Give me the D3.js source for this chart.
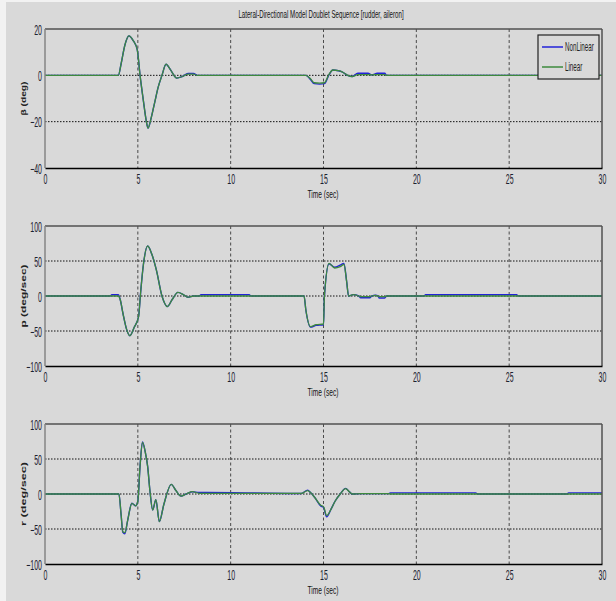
<!DOCTYPE html>
<html><head><meta charset="utf-8">
<script src="https://cdn.jsdelivr.net/npm/d3@7"></script>
<style>body{margin:0;background:#fff}svg{display:block}</style>
</head><body>
<script>
// ---------- DATA ----------
const titleText = "Lateral-Directional Model Doublet Sequence [rudder, aileron]";
const xTicks = [0, 5, 10, 15, 20, 25, 30];
const seriesNames = ["NonLinear", "Linear"];

// beta (deg)
const betaTicks = [20, 0, -20, -40];
const betaTime = [0, 3.95, 4.1, 4.3, 4.52, 4.75, 4.97, 5.12, 5.3, 5.45, 5.55, 5.7, 5.9, 6.1, 6.3, 6.52, 6.75, 7.1, 7.4, 7.7, 8.0, 8.2, 14.05, 14.3, 14.5, 14.8, 15.05, 15.3, 15.5, 15.8, 16.0, 16.3, 16.55, 16.85, 17.4, 17.6, 17.9, 18.3, 18.4, 30];
const betaLinear = [0, 0, 5, 13, 17, 15, 11, 0, -11, -19.5, -22.8, -19, -12, -5, 0, 4.8, 2.5, -1.2, -0.5, 0.5, 0.5, 0, 0, -1.5, -3.2, -3.4, -3.2, 0.5, 2.3, 2, 1.5, 0, -0.5, 0.3, 0.3, 0.2, 0.3, 0.3, 0, 0];
const betaNonLinear = [0, 0, 5, 13, 17, 15, 11, 0, -11, -19.5, -22.8, -19, -12, -5, 0, 4.8, 2.5, -1.2, -0.5, 0.8, 0.8, 0, 0, -1.8, -3.6, -3.8, -3.6, 0.3, 2.3, 2, 1.5, 0, -0.5, 0.9, 0.9, 0.2, 0.9, 0.9, 0, 0];

// p (deg/sec)
const pTicks = [100, 50, 0, -50, -100];
const pTime = [0, 3.5, 3.6, 3.95, 4.05, 4.2, 4.4, 4.57, 4.8, 5.04, 5.15, 5.3, 5.53, 5.75, 6.0, 6.3, 6.59, 6.85, 7.16, 7.45, 7.7, 8.0, 8.3, 8.4, 11.0, 11.1, 13.95, 14.05, 14.3, 14.6, 15.0, 15.05, 15.3, 15.6, 15.9, 16.1, 16.25, 16.35, 16.6, 16.9, 17.0, 17.5, 17.6, 17.8, 17.95, 18.0, 18.3, 18.4, 20.4, 20.5, 25.4, 25.5, 30];
const pLinear = [0, 0, 0, 0, -5, -25, -48, -56.7, -45, -29.5, 5, 45, 71.4, 60, 37, 0, -15, -5, 5.2, 2, -1.7, 0, 0, 0, 0, 0, 0, -20, -43.8, -41, -40, 0, 46.7, 40, 42, 45, 20, 0, 2, 0, -1, -1, 0, 1, -0.5, -1, -1, 0, 0, 0, 0, 0, 0];
const pNonLinear = [0, 0, 1.8, 1.8, -5, -25, -48, -56.7, -45, -29.5, 5, 45, 71.4, 60, 37, 0, -15, -5, 5.2, 2, -1.7, 0, 0, 1.8, 1.8, 0, 0, -20, -44.5, -42, -41, 0, 46, 41, 44, 46.5, 20, 0, 2, 0, -2.5, -2.5, 0, 1, -0.5, -2.8, -2.8, 0, 0, 1.8, 1.8, 0, 0];

// r (deg/sec)
const rTicks = [100, 50, 0, -50, -100];
const rTime = [0, 3.98, 4.1, 4.19, 4.3, 4.45, 4.68, 4.88, 5.0, 5.12, 5.25, 5.4, 5.53, 5.65, 5.8, 5.97, 6.16, 6.4, 6.8, 7.05, 7.33, 7.6, 7.94, 8.3, 8.7, 13.8, 14.15, 14.3, 14.53, 14.85, 15.0, 15.17, 15.4, 15.63, 15.9, 16.19, 16.4, 16.55, 17.0, 18.5, 18.6, 23.2, 23.3, 28.1, 28.2, 30];
const rLinear = [0, 0, -30, -53.8, -55, -38, -13.3, -17, -10, 40, 73.8, 60, 39, 5, -22.9, -8, -39.5, -15, 13.8, 5, -3, 0, 3.3, 1, 0.8, 0.8, 4.8, 2, -5, -16, -18, -31, -22, -10, 0, 7.6, 3, 0, 0.5, 0.5, 0, 0, 0, 0, 0, 0];
const rNonLinear = [0, 0, -30, -54.5, -57, -38, -13.3, -17, -10, 40, 74.5, 60, 39, 5, -22.9, -8, -39.5, -15, 13.8, 5, -3, 0, 3.3, 2.2, 2.2, 0.8, 5.5, 2, -5, -17, -19, -32.5, -22, -10, 0, 8, 3, 0, 0.5, 0.5, 1.6, 1.6, 0, 0, 1.6, 1.6];

// ---------- LAYOUT / STYLE ----------
const W = 616, H = 601;
const left = 45, right = 602;
const panels = [
  {top: 29, bottom: 168, domain: [-40, 20], ticks: betaTicks, grid: [0, -20], t: betaTime, lin: betaLinear, non: betaNonLinear, label: "\u03B2  (deg)", labelLen: 34, legend: true},
  {top: 226, bottom: 366, domain: [-100, 100], ticks: pTicks, grid: [50, 0, -50], t: pTime, lin: pLinear, non: pNonLinear, label: "p  (deg/sec)", labelLen: 63},
  {top: 424, bottom: 564, domain: [-100, 100], ticks: rTicks, grid: [50, 0, -50], t: rTime, lin: rLinear, non: rNonLinear, label: "r  (deg/sec)", labelLen: 64}
];
const bg = "#d9d9d9";
const blue = "#2222d8", green = "#3d8a3d";
const SQ = 0.5; // horizontal squish of text
const fontFam = "'Liberation Sans', Arial, sans-serif";

const svg = d3.select("body").append("svg").attr("width", W).attr("height", H);
svg.append("rect").attr("width", W).attr("height", H).attr("fill", "#f2f2f2");
svg.append("rect").attr("x", 6).attr("y", 2).attr("width", W - 6).attr("height", H - 2).attr("fill", bg);

// title
svg.append("text").attr("transform", "translate(321,18) scale(0.56,1)").attr("text-anchor", "middle")
  .attr("font-family", fontFam).attr("font-size", 11).attr("fill", "#111").text(titleText);

const x = d3.scaleLinear().domain([0, 30]).range([left, right]);

panels.forEach((P, i) => {
  const y = d3.scaleLinear().domain(P.domain).range([P.bottom, P.top]);
  const g = svg.append("g");
  const clipId = "clip" + i;
  svg.append("clipPath").attr("id", clipId).append("rect")
    .attr("x", left).attr("y", P.top - 1).attr("width", right - left).attr("height", P.bottom - P.top + 2);

  // vertical dashed grid
  g.selectAll(".vg").data(xTicks.slice(1, -1)).join("line")
    .attr("x1", d => x(d)).attr("x2", d => x(d)).attr("y1", P.top).attr("y2", P.bottom)
    .attr("stroke", "#4a4a4a").attr("stroke-width", 1).attr("stroke-dasharray", "3,2.5");
  // horizontal dotted grid
  g.selectAll(".hg").data(P.grid).join("line")
    .attr("x1", left).attr("x2", right).attr("y1", d => y(d)).attr("y2", d => y(d))
    .attr("stroke", "#111").attr("stroke-width", 1).attr("stroke-dasharray", "1.5,1.5");

  // lines
  const mk = vals => d3.line().x((d, k) => x(P.t[k])).y(d => y(d)).curve(d3.curveMonotoneX)(vals);
  const lg = g.append("g").attr("clip-path", `url(#${clipId})`);
  lg.append("path").attr("d", mk(P.non)).attr("fill", "none").attr("stroke", blue).attr("stroke-width", 1.4);
  lg.append("path").attr("d", mk(P.lin)).attr("fill", "none").attr("stroke", green).attr("stroke-width", 1.3);

  // borders
  g.append("line").attr("x1", left).attr("x2", right).attr("y1", P.top).attr("y2", P.top).attr("stroke", "#505050").attr("stroke-width", 1.5);
  g.append("line").attr("x1", right).attr("x2", right).attr("y1", P.top).attr("y2", P.bottom).attr("stroke", "#505050").attr("stroke-width", 1.5);
  g.append("line").attr("x1", left).attr("x2", left).attr("y1", P.top).attr("y2", P.bottom).attr("stroke", "#858585").attr("stroke-width", 1.5);

  // axes
  const xa = g.append("g").attr("transform", `translate(0,${P.bottom})`)
    .call(d3.axisBottom(x).tickValues(xTicks).tickSize(0).tickFormat(d3.format("d")));
  xa.select(".domain").attr("stroke", "#000").attr("stroke-width", 1.5);
  xa.selectAll("text").attr("font-family", fontFam).attr("font-size", 14).attr("fill", "#1c2230")
    .attr("y", 16).attr("dy", 0).attr("transform", `scale(${SQ},1)`);

  const ya = g.append("g").attr("transform", `translate(${left},0)`)
    .call(d3.axisLeft(y).tickValues(P.ticks).tickSize(0).tickFormat(d3.format("d")));
  ya.select(".domain").remove();
  ya.selectAll("text").attr("font-family", fontFam).attr("font-size", 14).attr("fill", "#1c2230")
    .attr("x", -3 / SQ).attr("dy", "0.36em").attr("transform", `scale(${SQ},1)`);

  // x label
  g.append("text").attr("transform", `translate(323,${P.bottom + 30}) scale(0.6,1)`).attr("text-anchor", "middle")
    .attr("font-family", fontFam).attr("font-size", 11).attr("fill", "#111").text("Time (sec)");
  // y label
  const cy = (P.top + P.bottom) / 2;
  g.append("text").attr("transform", `translate(26,${cy}) rotate(-90) scale(1,0.6)`)
    .attr("text-anchor", "middle").attr("font-family", fontFam).attr("font-size", 12)
    .attr("font-weight", "bold").attr("fill", "#222")
    .attr("textLength", P.labelLen).attr("lengthAdjust", "spacingAndGlyphs").text(P.label);

  if (P.legend) {
    const L = g.append("g");
    L.append("rect").attr("x", 538).attr("y", 35).attr("width", 61).attr("height", 44)
      .attr("fill", bg).attr("stroke", "#222").attr("stroke-width", 1.2);
    const cols = [blue, green];
    seriesNames.forEach((n, k) => {
      const ly = 47 + k * 20;
      L.append("line").attr("x1", 542).attr("x2", 563).attr("y1", ly).attr("y2", ly)
        .attr("stroke", cols[k]).attr("stroke-width", 1.5);
      L.append("text").attr("transform", `translate(565,${ly + 4}) scale(0.52,1)`)
        .attr("font-family", fontFam).attr("font-size", 12).attr("fill", "#222").text(n);
    });
  }
});
</script>
</body></html>
